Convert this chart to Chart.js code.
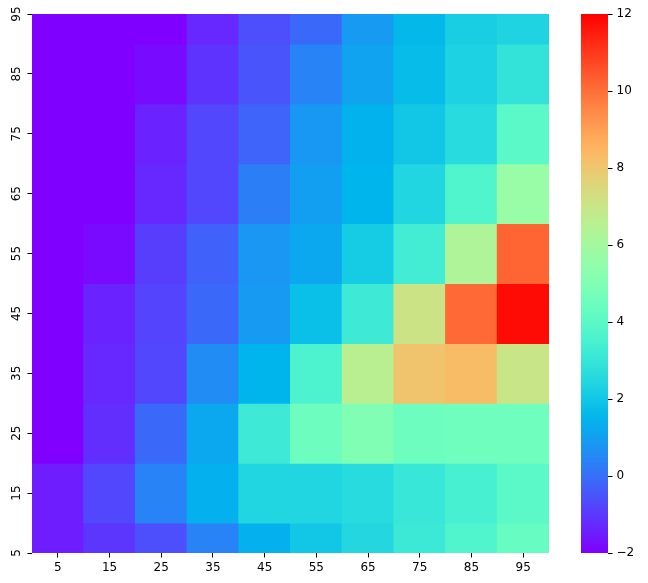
<!DOCTYPE html>
<html>
<head>
<meta charset="utf-8">
<script src="https://cdn.jsdelivr.net/npm/chart.js@4.4.1/dist/chart.umd.min.js"></script>
<style>
    body { margin: 0; background: #fff; }
    #wrap { position: relative; width: 648px; height: 583px; }
    #heat { position: absolute; left: 0; top: 0; }
    #cbar { position: absolute; left: 581px; top: 0; }
</style>
</head>
<body>
<div id="wrap">
    <canvas id="heat" width="648" height="583"></canvas>
    <canvas id="cbar" width="67" height="583"></canvas>
</div>
<script>
// columns (x) and rows (y), rows listed top to bottom
const xLabels = ['5', '15', '25', '35', '45', '55', '65', '75', '85', '95'];
const yLabels = [95, 85, 75, 65, 55, 45, 35, 25, 15, 5];

// cell values, one array per row
const row95 = [-2, -2, -2, -1.3, -0.6, -0.1, 0.9, 1.6, 2.2, 2.35];
const row85 = [-2, -2, -1.8, -1.1, -0.5, 0.4, 1.1, 1.7, 2.3, 2.9];
const row75 = [-2, -2, -1.4, -0.75, -0.2, 0.85, 1.45, 2.0, 2.6, 4.0];
const row65 = [-2, -2, -1.3, -0.75, 0.3, 1.0, 1.5, 2.4, 3.7, 5.7];
const row55 = [-2, -1.85, -0.9, -0.25, 0.8, 1.2, 2.1, 3.3, 6.3, 10.2];
const row45 = [-2, -1.4, -0.8, -0.1, 0.9, 1.8, 3.2, 7.1, 10.1, 11.8];
const row35 = [-2, -1.3, -0.75, 0.6, 1.5, 3.6, 6.6, 8.1, 8.3, 7.0];
const row25 = [-2, -1.2, -0.1, 1.2, 3.2, 4.5, 5.0, 4.5, 4.55, 4.55];
const row15 = [-1.5, -0.75, 0.4, 1.4, 2.4, 2.4, 2.6, 3.05, 3.45, 4.0];
const row5 = [-1.5, -1.05, -0.6, 0.4, 1.4, 2.0, 2.45, 3.15, 3.7, 4.3];
const rows = [row95, row85, row75, row65, row55, row45, row35, row25, row15, row5];

// colour scale
const vmin = -2;
const vmax = 12;
const cbarTicks = [-2, 0, 2, 4, 6, 8, 10, 12];
const yMin = 5;
const yMax = 95;

const FONT = { family: 'DejaVu Sans', size: 12 };

function rainbow(v) {
    const t = Math.min(1, Math.max(0, (v - vmin) / (vmax - vmin)));
    const r = Math.min(1, Math.abs(2 * t - 0.5));
    const g = Math.sin(Math.PI * t);
    const b = Math.cos(Math.PI * t / 2);
    return `rgb(${Math.round(r * 255)},${Math.round(g * 255)},${Math.round(b * 255)})`;
}

// each row is a floating bar dataset spanning half a step either side of its label
const datasets = rows.map((vals, i) => {
    const yv = yLabels[i];
    const lo = Math.max(yMin, yv - 5);
    const hi = Math.min(yMax, yv + 5);
    return {
        label: String(yv),
        data: vals.map(() => [lo, hi]),
        backgroundColor: vals.map(rainbow),
        borderWidth: 0,
        inflateAmount: 0.5,
        grouped: false,
        barPercentage: 1,
        categoryPercentage: 1
    };
});

new Chart(document.getElementById('heat'), {
    type: 'bar',
    data: { labels: xLabels, datasets: datasets },
    options: {
        responsive: false,
        animation: false,
        layout: { padding: { left: 0, right: 99, top: 14, bottom: 0 } },
        plugins: { legend: { display: false }, tooltip: { enabled: false } },
        scales: {
            x: {
                grid: { offset: false, drawOnChartArea: false, drawTicks: true, tickLength: 4.5, color: '#000', lineWidth: 1 },
                border: { display: false },
                ticks: { color: '#000', font: FONT, padding: 3, maxRotation: 0, autoSkip: false },
                afterFit: (axis) => { axis.height = 30; }
            },
            y: {
                type: 'linear',
                stacked: false,
                min: yMin,
                max: yMax,
                grid: { drawOnChartArea: false, drawTicks: true, tickLength: 4.5, color: '#000', lineWidth: 1 },
                border: { display: false },
                ticks: { color: '#000', font: FONT, padding: 3, minRotation: 90, maxRotation: 90, crossAlign: 'center' },
                afterBuildTicks: (axis) => { axis.ticks = yLabels.map(v => ({ value: v })); },
                afterFit: (axis) => { axis.width = 32; }
            }
        }
    }
});

// colour bar
new Chart(document.getElementById('cbar'), {
    type: 'bar',
    data: {
        labels: [''],
        datasets: [{
            data: [[vmin, vmax]],
            backgroundColor: (ctx) => {
                const chart = ctx.chart;
                const area = chart.chartArea;
                if (!area) return 'rgba(0,0,0,0)';
                const g = chart.ctx.createLinearGradient(0, area.bottom, 0, area.top);
                for (let i = 0; i <= 50; i++) {
                    g.addColorStop(i / 50, rainbow(vmin + (vmax - vmin) * i / 50));
                }
                return g;
            },
            borderWidth: 0,
            barPercentage: 1,
            categoryPercentage: 1
        }]
    },
    options: {
        responsive: false,
        animation: false,
        layout: { padding: { left: 0, right: 0, top: 14, bottom: 30 } },
        plugins: { legend: { display: false }, tooltip: { enabled: false } },
        scales: {
            x: { display: false },
            y: {
                position: 'right',
                min: vmin,
                max: vmax,
                grid: { drawOnChartArea: false, drawTicks: true, tickLength: 4.5, color: '#000', lineWidth: 1 },
                border: { display: false },
                ticks: {
                    color: '#000',
                    font: FONT,
                    padding: 4,
                    callback: (v) => String(v).replace('-', '\u2212')
                },
                afterBuildTicks: (axis) => { axis.ticks = cbarTicks.map(v => ({ value: v })); },
                afterFit: (axis) => { axis.width = 40; }
            }
        }
    }
});
</script>
</body>
</html>
